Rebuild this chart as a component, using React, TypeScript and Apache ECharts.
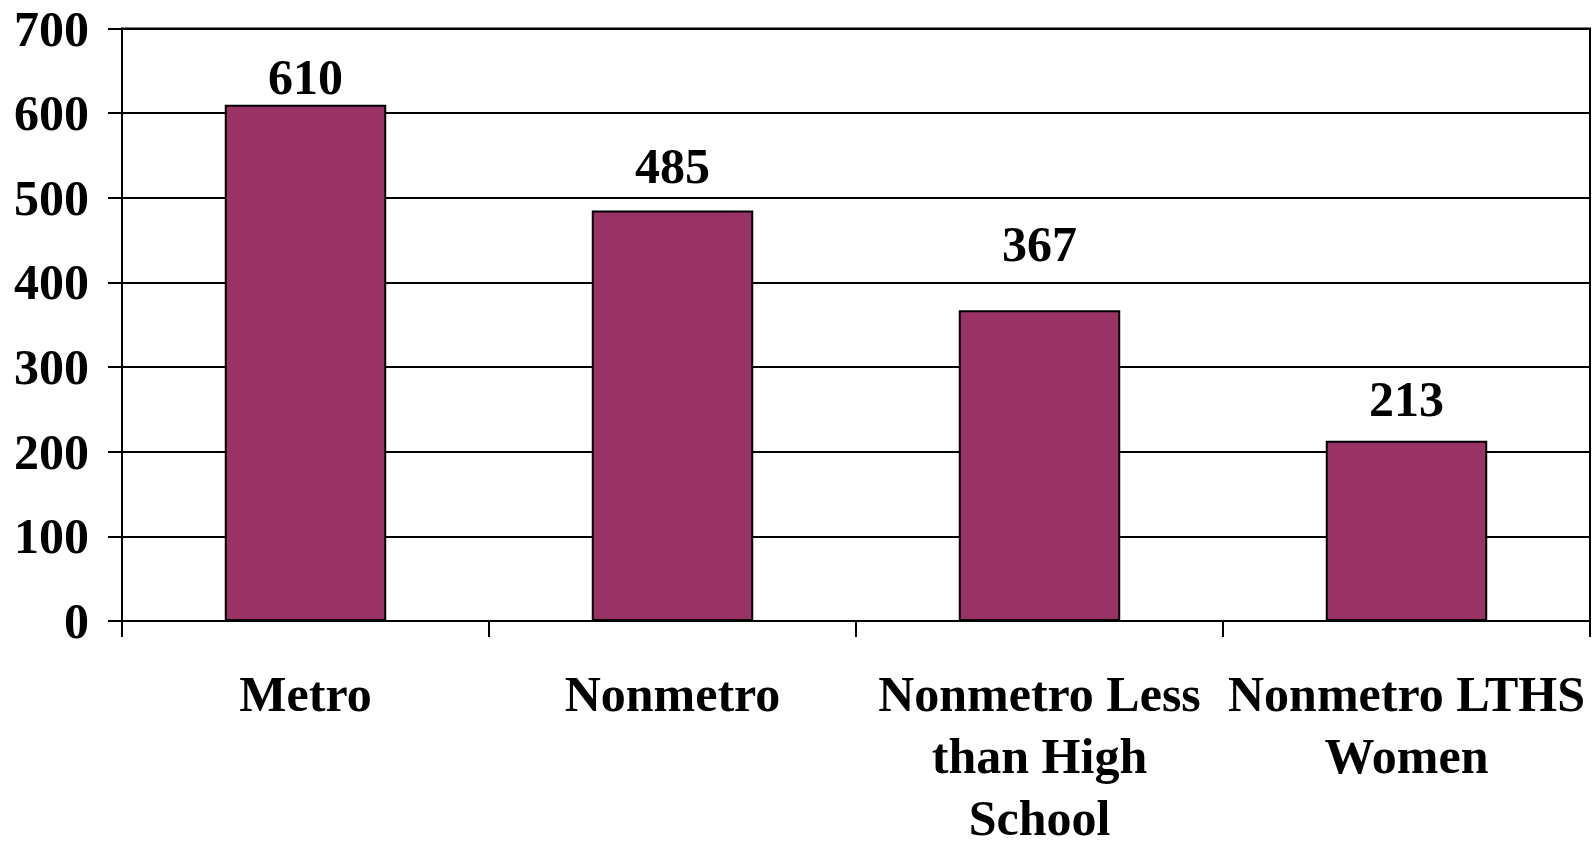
import React, { useEffect, useRef } from "react";
import * as echarts from "echarts";

const categories = [
  "Metro",
  "Nonmetro",
  "Nonmetro Less\nthan High\nSchool",
  "Nonmetro LTHS\nWomen",
];
const values = [610, 485, 367, 213];
const yTicks = { min: 0, max: 700, interval: 100 };

const FONT = '"Liberation Serif", "Times New Roman", serif';
const labelGaps = [3, 19, 41, 17];

export default function App() {
  const ref = useRef<HTMLDivElement>(null);
  useEffect(() => {
    if (!ref.current) return;
    const chart = echarts.init(ref.current, null, { renderer: "svg" });
    chart.setOption({
      animation: false,
      grid: {
        left: 122,
        right: 2,
        top: 28.5,
        bottom: 218.5,
        show: true,
        borderColor: "#000",
        borderWidth: 2,
        backgroundColor: "transparent",
      },
      xAxis: {
        type: "category",
        data: categories,
        axisLine: { show: true, lineStyle: { color: "#000", width: 2 } },
        axisTick: { show: true, length: 16, lineStyle: { color: "#000", width: 2 } },
        axisLabel: {
          interval: 0,
          margin: 42,
          color: "#000",
          fontFamily: FONT,
          fontWeight: "bold",
          fontSize: 50,
          lineHeight: 62,
        },
      },
      yAxis: {
        type: "value",
        min: yTicks.min,
        max: yTicks.max,
        interval: yTicks.interval,
        axisLine: { show: true, lineStyle: { color: "#000", width: 2 } },
        axisTick: { show: true, length: 14, lineStyle: { color: "#000", width: 2 } },
        splitLine: { show: true, lineStyle: { color: "#000", width: 2 } },
        axisLabel: {
          margin: 33,
          color: "#000",
          fontFamily: FONT,
          fontWeight: "bold",
          fontSize: 50,
        },
      },
      series: [
        {
          type: "bar",
          barCategoryGap: "56%",
          data: values.map((v, i) => ({
            value: v,
            label: { distance: labelGaps[i] },
          })),
          itemStyle: { color: "#993366", borderColor: "#000", borderWidth: 2 },
          label: {
            show: true,
            position: "top",
            color: "#000",
            fontFamily: FONT,
            fontWeight: "bold",
            fontSize: 50,
          },
        },
      ],
    });
    return () => chart.dispose();
  }, []);
  return (
    <div
      ref={ref}
      style={{ position: "fixed", left: 0, top: 0, width: 1592, height: 849, background: "#fff" }}
    />
  );
}
